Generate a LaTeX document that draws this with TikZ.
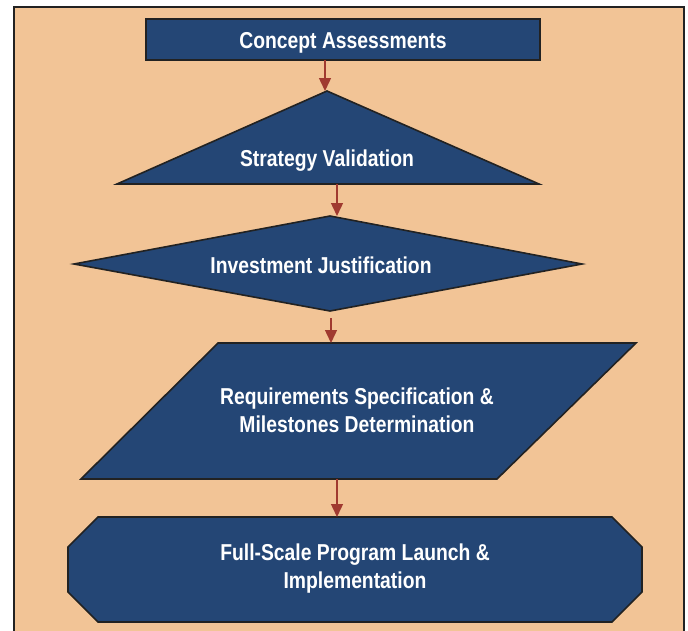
\documentclass[tikz,border=0pt]{standalone}
\usepackage{fontspec}
\setmainfont{Liberation Sans}[FakeStretch=0.84]
\usetikzlibrary{arrows.meta}
\definecolor{peach}{RGB}{242,196,150}
\definecolor{navy}{RGB}{36,70,117}
\definecolor{edge}{RGB}{34,34,34}
\definecolor{arrowred}{RGB}{160,58,48}
\tikzset{
  shapebox/.style={fill=navy,draw=edge,line width=1.6pt,line join=miter},
  label/.style={text=white,font=\fontsize{23}{28}\selectfont\bfseries,align=center,inner sep=0pt},
  flow/.style={draw=arrowred,line width=1.4pt,-{Triangle[length=13pt,width=12pt]}}
}
\begin{document}
\begin{tikzpicture}[x=1pt,y=-1pt]
\useasboundingbox (0,0) rectangle (688,630);
\fill[white] (0,0) rectangle (688,630);
\draw[fill=peach,draw=edge,line width=2.2pt] (14,640) -- (14,7) -- (684,7) -- (684,640);
% Concept Assessments
\draw[shapebox] (146,19) rectangle (540,60);
\node[label] (ca) at (343,43) {Concept Assessments};
\coordinate (ca-s) at (325,60);
% Strategy Validation
\draw[shapebox] (327,91) -- (539,184) -- (117,184) -- cycle;
\node[label] (sv) at (327,161) {Strategy Validation};
\coordinate (sv-n) at (325,91);
\coordinate (sv-s) at (337,184);
% Investment Justification
\draw[shapebox] (330,216) -- (582,264) -- (330,311) -- (74,264) -- cycle;
\node[label] (ij) at (321,265) {Investment Justification};
\coordinate (ij-n) at (337,216);
\coordinate (ij-s) at (331,318);
% Requirements
\draw[shapebox] (218,343) -- (636,343) -- (497,479) -- (81,479) -- cycle;
\node[label] (rs) at (357,410) {Requirements Specification \&\\Milestones Determination};
\coordinate (rs-n) at (331,343);
\coordinate (rs-s) at (337,479);
% Full-scale
\draw[shapebox] (98,517) -- (612,517) -- (642,547) -- (642,592) -- (612,622) -- (98,622) -- (68,592) -- (68,547) -- cycle;
\node[label] (fs) at (355,569) {Full-Scale Program Launch \&\\Implementation};
\coordinate (fs-n) at (337,517);
% arrows
\draw[flow] (ca-s) -- (sv-n);
\draw[flow] (sv-s) -- (ij-n);
\draw[flow] (ij-s) -- (rs-n);
\draw[flow] (rs-s) -- (fs-n);
\end{tikzpicture}
\end{document}
